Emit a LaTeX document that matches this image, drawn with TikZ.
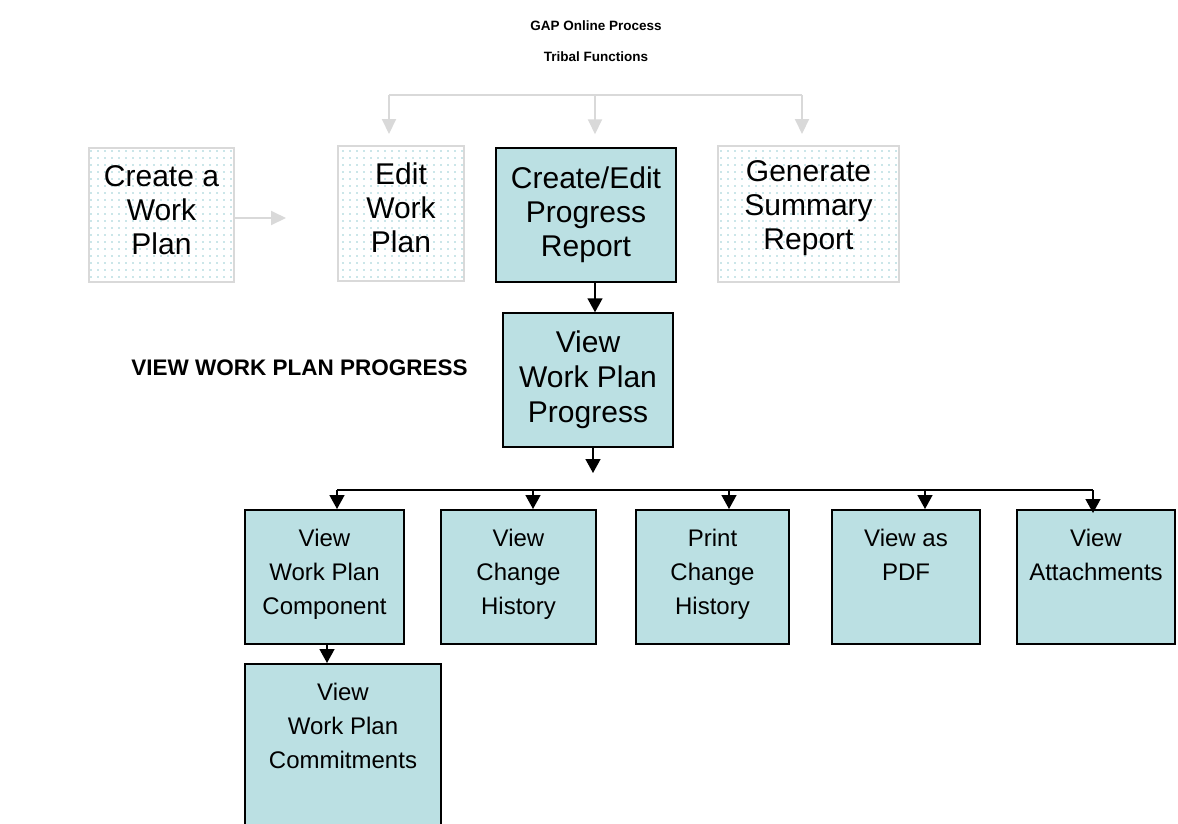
\documentclass[tikz,border=0pt]{standalone}
\usepackage{fontspec}
\setmainfont{Liberation Sans}
\usetikzlibrary{arrows.meta,patterns.meta}
\definecolor{tealfill}{RGB}{187,224,227}
\definecolor{gline}{RGB}{217,217,217}
\definecolor{dotc}{RGB}{150,205,212}
\newcommand{\boxlines}[3]{\parbox[t][#1][t]{#2}{\centering\rule{0pt}{37pt}#3}}
\tikzset{
  tealbox/.style={draw=black, line width=1.5pt, fill=tealfill, inner sep=0pt},
  dotbox/.style={draw=gline, line width=2pt, pattern={Dots[distance=7pt, radius=0.85pt]}, pattern color=dotc, inner sep=0pt},
  bigtext/.style={font=\fontsize{30}{34}\selectfont, align=center},
  arr/.style={draw=black, line width=1.5pt, -{Triangle[width=15pt, length=14pt]}},
  garr/.style={draw=gline, line width=2pt, -{Triangle[width=14pt, length=15pt]}},
  bline/.style={draw=black, line width=1.5pt},
  gline/.style={draw=gline, line width=2pt},
}
\begin{document}
\begin{tikzpicture}[x=1pt, y=-1pt]
\fill[white] (0,0) rectangle (1178,823);
\useasboundingbox (0,0) rectangle (1178,823);
\begin{scope}
\clip (0,0) rectangle (1178,823);
% titles
\node[font=\bfseries\fontsize{13.5}{16}\selectfont] (t1) at (596,26) {GAP Online Process};
\node[font=\bfseries\fontsize{13.5}{16}\selectfont] (t2) at (596,57) {Tribal Functions};
\node[font=\bfseries\fontsize{22.5}{26}\selectfont] (vwpp) at (299.5,368) {VIEW WORK PLAN PROGRESS};
% top row
\node[dotbox, minimum width=145pt, minimum height=134pt] (cwp) at (161.5,215) {};
\node[bigtext] (cwpt) at (161.5,210) {Create a\\Work\\Plan};
\node[dotbox, minimum width=126pt, minimum height=135pt] (ewp) at (401,213.5) {};
\node[bigtext] (ewpt) at (401,208) {Edit\\Work\\Plan};
\node[tealbox, minimum width=180pt, minimum height=134pt, bigtext] (cer) at (586,215) {Create/Edit\\Progress\\Report};
\node[dotbox, minimum width=181pt, minimum height=136pt] (gsr) at (808.5,214) {};
\node[bigtext] (gsrt) at (808.5,208) {Generate\\Summary\\Report};
% middle
\node[tealbox, minimum width=170pt, minimum height=134pt, font=\fontsize{30}{35}\selectfont, align=center] (vwp) at (588,380) {View\\Work Plan\\Progress};
% bottom row
\tikzset{small/.style={tealbox, anchor=north, font=\fontsize{24}{34}\selectfont}}
\node[small] (c1) at (324.5,509) {\boxlines{134pt}{159pt}{View\\Work Plan\\Component}};
\node[small] (c2) at (518.5,509) {\boxlines{134pt}{155pt}{View\\Change\\History}};
\node[small] (c3) at (712.5,509) {\boxlines{134pt}{153pt}{Print\\Change\\History}};
\node[small] (c4) at (906,509) {\boxlines{134pt}{148pt}{View as\\PDF}};
\node[small] (c5) at (1096,509) {\boxlines{134pt}{158pt}{View\\Attachments}};
\node[small] (com) at (343,663) {\boxlines{190pt}{196pt}{View\\Work Plan\\Commitments}};
% gray connectors
\coordinate (gl) at (389,95);
\coordinate (gm) at (595,95);
\coordinate (gr) at (802,95);
\coordinate (ga) at (286,218);
\draw[gline] (gl) -- (gr);
\draw[garr, shorten >=11pt] (gl) -- (gl |- ewp.north);
\draw[garr, shorten >=13pt] (gm) -- (gm |- cer.north);
\draw[garr, shorten >=11pt] (gr) -- (gr |- gsr.north);
\draw[garr] (cwp.east |- ga) -- (ga);
% black connectors
\draw[arr] (cer.south -| gm) -- (vwp.north -| gm);
\coordinate (v1) at (593,473);
\draw[arr] (vwp.south -| v1) -- (v1);
\coordinate (b1) at (337,490);
\coordinate (b2) at (533,490);
\coordinate (b3) at (729,490);
\coordinate (b4) at (925,490);
\coordinate (b5) at (1093,490);
\draw[bline] (b1) -- (b5);
\draw[arr] (b1) -- (b1 |- c1.north);
\draw[arr] (b2) -- (b2 |- c2.north);
\draw[arr] (b3) -- (b3 |- c3.north);
\draw[arr] (b4) -- (b4 |- c4.north);
\draw[arr, shorten >=-4pt] (b5) -- (b5 |- c5.north);
\draw[arr] ([xshift=2.5pt]c1.south) -- ([xshift=2.5pt]c1.south |- com.north);
\end{scope}
\end{tikzpicture}
\end{document}
